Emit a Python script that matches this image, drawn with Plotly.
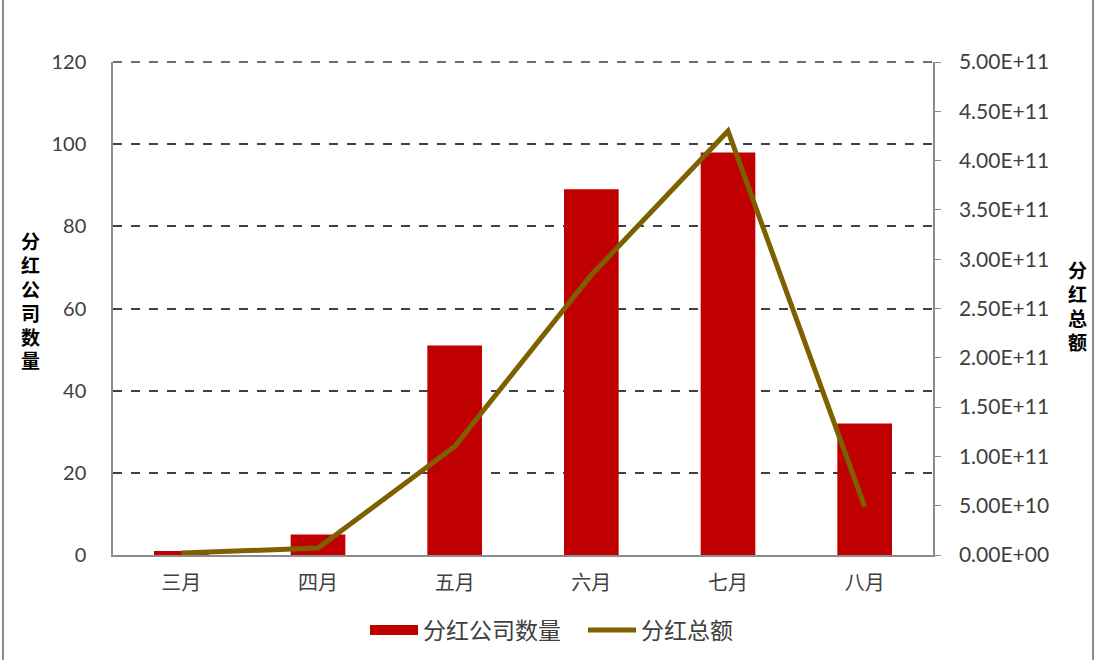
import plotly.graph_objects as go

months = ["三月", "四月", "五月", "六月", "七月", "八月"]
company_counts = [1, 5, 51, 89, 98, 32]
dividend_totals = [2.0e9, 7.0e9, 1.1e11, 2.84e11, 4.3e11, 4.9e10]
left_ticks = [0, 20, 40, 60, 80, 100, 120]
right_tickvals = [0, 5e10, 1e11, 1.5e11, 2e11, 2.5e11, 3e11, 3.5e11, 4e11, 4.5e11, 5e11]
right_ticktext = ["0.00E+00", "5.00E+10", "1.00E+11", "1.50E+11", "2.00E+11", "2.50E+11",
                  "3.00E+11", "3.50E+11", "4.00E+11", "4.50E+11", "5.00E+11"]
left_title = ["分", "红", "公", "司", "数", "量"]
right_title = ["分", "红", "总", "额"]

num_font = "Lato, 'Noto Sans CJK SC', sans-serif"
cjk_font = "'Noto Sans CJK SC', sans-serif"
title_font = "'Liberation Sans', 'Noto Sans CJK SC', sans-serif"

fig = go.Figure()
fig.add_trace(go.Bar(
    x=months, y=company_counts, name="分红公司数量",
    marker=dict(color="#C00000", line=dict(width=0)),
    width=0.4, yaxis="y", showlegend=False,
))
# legend entry drawn as a wide red block like the reference
fig.add_trace(go.Scatter(
    x=[None], y=[None], name="分红公司数量", mode="lines",
    line=dict(color="#C00000", width=14), yaxis="y", showlegend=True,
))
fig.add_trace(go.Scatter(
    x=months, y=dividend_totals, name="分红总额",
    mode="lines", line=dict(color="#7F6000", width=5),
    yaxis="y2",
))

annotations = []
for i, ch in enumerate(left_title):
    annotations.append(dict(
        text="<b>" + ch + "</b>", xref="paper", yref="paper",
        x=(30 - 113) / 820, y=(555 - (242 + i * 24)) / 493,
        xanchor="center", yanchor="middle", showarrow=False,
        borderpad=0, font=dict(family=title_font, size=19, color="#000000")))
for i, ch in enumerate(right_title):
    annotations.append(dict(
        text="<b>" + ch + "</b>", xref="paper", yref="paper",
        x=(1077 - 113) / 820, y=(555 - (271 + i * 24)) / 493,
        xanchor="center", yanchor="middle", showarrow=False,
        borderpad=0, font=dict(family=title_font, size=19, color="#000000")))

fig.update_layout(
    width=1098, height=660,
    margin=dict(l=113, r=165, t=62, b=105, autoexpand=False),
    paper_bgcolor="white", plot_bgcolor="white",
    showlegend=True,
    xaxis=dict(
        type="category", showgrid=False, showline=True, linecolor="#8C8C8C", linewidth=1.5,
        ticks="", tickfont=dict(family=cjk_font, size=20, color="#404040"),
        ticklabelstandoff=9,
    ),
    yaxis=dict(
        range=[0, 120], tickvals=left_ticks, showgrid=True,
        gridcolor="#404040", griddash="dash", gridwidth=1.5,
        showline=True, linecolor="#8C8C8C", linewidth=1.5, ticks="",
        tickfont=dict(family=num_font, size=20, color="#404040"),
        ticklabelstandoff=21, zeroline=False,
    ),
    yaxis2=dict(
        range=[0, 5e11], tickvals=right_tickvals, ticktext=right_ticktext,
        overlaying="y", side="right", showgrid=False,
        showline=True, linecolor="#8C8C8C", linewidth=1.5,
        ticks="outside", ticklen=6, tickcolor="#8C8C8C",
        tickfont=dict(family=num_font, size=21, color="#404040"),
        ticklabelstandoff=14, zeroline=False,
    ),
    legend=dict(
        orientation="h", x=(365 - 113) / 820, xanchor="left", y=-0.152, yanchor="middle",
        font=dict(family=cjk_font, size=23, color="#404040"),
        entrywidth=155, entrywidthmode="pixels", itemwidth=48, bgcolor="rgba(0,0,0,0)",
    ),
    annotations=annotations,
    shapes=[
        dict(type="rect", xref="paper", yref="paper",
             x0=(3 - 113) / 820, x1=(1093 - 113) / 820, y0=-0.5, y1=1.5,
             line=dict(color="#8C8C8C", width=2), fillcolor="rgba(0,0,0,0)", layer="below"),
        dict(type="line", xref="paper", yref="paper", x0=0, x1=1, y0=1, y1=1,
             line=dict(color="#404040", width=1.5, dash="dash"), layer="below"),
    ],
)

fig.write_html("out.html", config={"displayModeBar": False},
               post_script="document.body.style.margin='0';")
